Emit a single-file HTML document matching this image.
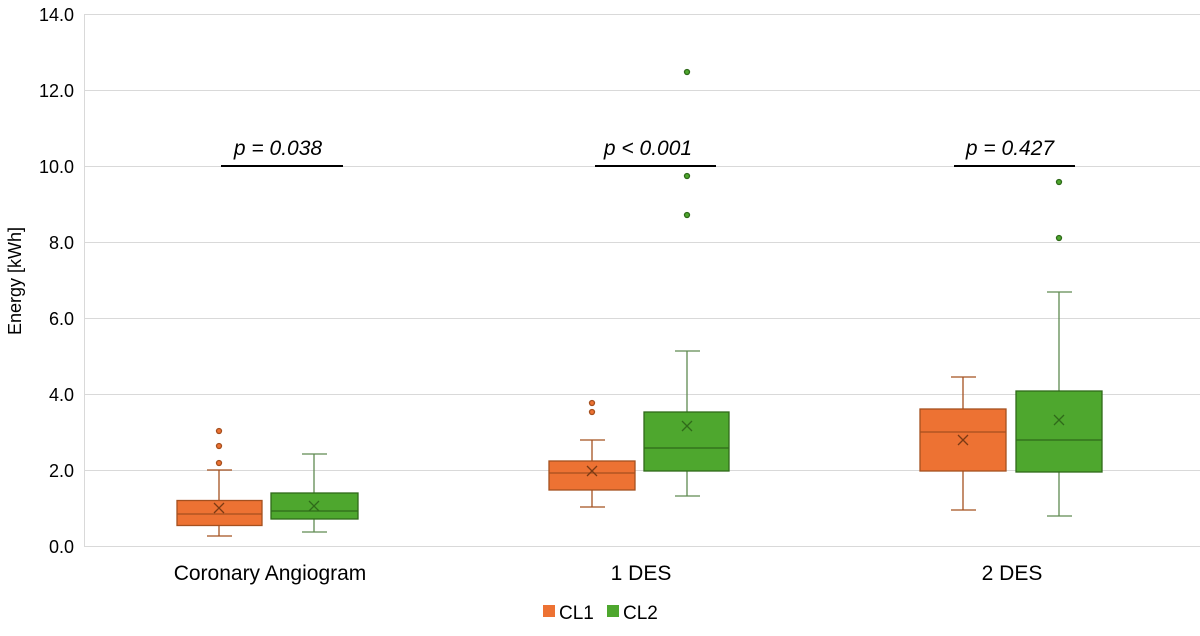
<!DOCTYPE html><html><head><style>body{margin:0;background:#fff}svg{font-family:"Liberation Sans",sans-serif}</style></head><body>
<svg width="1200" height="631" viewBox="0 0 1200 631">
<g stroke="#d9d9d9" stroke-width="1">
<line x1="84" y1="14.5" x2="1200" y2="14.5"/><line x1="84" y1="90.5" x2="1200" y2="90.5"/><line x1="84" y1="166.5" x2="1200" y2="166.5"/><line x1="84" y1="242.5" x2="1200" y2="242.5"/><line x1="84" y1="318.5" x2="1200" y2="318.5"/><line x1="84" y1="394.5" x2="1200" y2="394.5"/><line x1="84" y1="470.5" x2="1200" y2="470.5"/><line x1="84" y1="546.5" x2="1200" y2="546.5"/><line x1="84.5" y1="14" x2="84.5" y2="547"/>
</g>
<g font-size="18" fill="#000" text-anchor="end">
<text x="74" y="21">14.0</text><text x="74" y="97">12.0</text><text x="74" y="173">10.0</text><text x="74" y="249">8.0</text><text x="74" y="325">6.0</text><text x="74" y="401">4.0</text><text x="74" y="477">2.0</text><text x="74" y="553">0.0</text>
</g>
<text transform="translate(21,281) rotate(-90)" font-size="18" text-anchor="middle">Energy [kWh]</text>
<g font-size="21" text-anchor="middle"><text x="270" y="580">Coronary Angiogram</text><text x="641" y="580">1 DES</text><text x="1012" y="580">2 DES</text></g>
<g font-size="21" font-style="italic" text-anchor="middle"><text x="278" y="155">p = 0.038</text><text x="648" y="155">p &lt; 0.001</text><text x="1010" y="155">p = 0.427</text></g>
<g stroke="#000" stroke-width="2"><line x1="221" y1="166" x2="343" y2="166"/><line x1="595" y1="166" x2="716" y2="166"/><line x1="954" y1="166" x2="1075" y2="166"/></g>
<g fill="#ed7233" stroke="#a5501f" stroke-width="1.3">
<line x1="219" y1="470" x2="219" y2="536"/><line x1="207" y1="470" x2="232" y2="470"/><line x1="207" y1="536" x2="232" y2="536"/>
<rect x="177" y="500.5" width="85" height="25"/><line x1="177" y1="514" x2="262" y2="514"/>
<path d="M214 503l10 10M224 503l-10 10" stroke="#7a3a14"/>
<circle cx="219" cy="431" r="2.5"/><circle cx="219" cy="446" r="2.5"/><circle cx="219" cy="463" r="2.5"/>
<line x1="592" y1="440" x2="592" y2="507"/><line x1="580" y1="440" x2="605" y2="440"/><line x1="580" y1="507" x2="605" y2="507"/>
<rect x="549" y="461" width="86" height="29"/><line x1="549" y1="473" x2="635" y2="473"/>
<path d="M587 466l10 10M597 466l-10 10" stroke="#7a3a14"/>
<circle cx="592" cy="403" r="2.5"/><circle cx="592" cy="412" r="2.5"/>
<line x1="963" y1="377" x2="963" y2="510"/><line x1="951" y1="377" x2="976" y2="377"/><line x1="951" y1="510" x2="976" y2="510"/>
<rect x="920" y="409" width="86" height="62"/><line x1="920" y1="432" x2="1006" y2="432"/>
<path d="M958 435l10 10M968 435l-10 10" stroke="#7a3a14"/>
</g>
<g fill="#4ea72e" stroke="#2f6a1a" stroke-width="1.3">
<line x1="314" y1="454" x2="314" y2="532" stroke="#5f8a50"/><line x1="302" y1="454" x2="327" y2="454" stroke="#5f8a50"/><line x1="302" y1="532" x2="327" y2="532" stroke="#5f8a50"/>
<rect x="271" y="493" width="87" height="26"/><line x1="271" y1="511" x2="358" y2="511"/>
<path d="M309 501l10 10M319 501l-10 10"/>
<line x1="687" y1="351" x2="687" y2="496" stroke="#5f8a50"/><line x1="675" y1="351" x2="700" y2="351" stroke="#5f8a50"/><line x1="675" y1="496" x2="700" y2="496" stroke="#5f8a50"/>
<rect x="644" y="412" width="85" height="59"/><line x1="644" y1="448" x2="729" y2="448"/>
<path d="M682 421l10 10M692 421l-10 10"/>
<circle cx="687" cy="72" r="2.5"/><circle cx="687" cy="176" r="2.5"/><circle cx="687" cy="215" r="2.5"/>
<line x1="1059" y1="292" x2="1059" y2="516" stroke="#5f8a50"/><line x1="1047" y1="292" x2="1072" y2="292" stroke="#5f8a50"/><line x1="1047" y1="516" x2="1072" y2="516" stroke="#5f8a50"/>
<rect x="1016" y="391" width="86" height="81"/><line x1="1016" y1="440" x2="1102" y2="440"/>
<path d="M1054 415l10 10M1064 415l-10 10"/>
<circle cx="1059" cy="182" r="2.5"/><circle cx="1059" cy="238" r="2.5"/>
</g>
<rect x="543" y="605" width="12" height="12" fill="#ed7233"/><text x="559" y="619" font-size="19">CL1</text>
<rect x="607" y="605" width="12" height="12" fill="#4ea72e"/><text x="623" y="619" font-size="19">CL2</text>
</svg></body></html>
